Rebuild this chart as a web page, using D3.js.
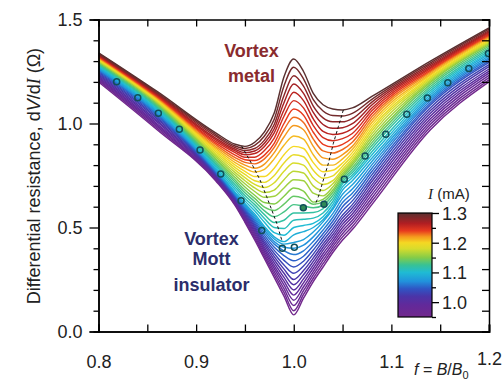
<!DOCTYPE html>
<html><head><meta charset="utf-8">
<script src="https://cdn.jsdelivr.net/npm/d3@7"></script>
<style>
body{margin:0;background:#fff}
svg{display:block}
text{font-family:"Liberation Sans",Arial,sans-serif}
</style></head>
<body><svg id="c" width="504" height="381"></svg>
<script>
// ---------- data ----------
const fGrid = [0.80,0.86,0.92,0.94,0.95,0.96,0.97,0.98,0.99,1.00,1.01,1.02,1.03,1.04,1.05,1.06,1.08,1.14,1.20];
const currents = [0.95,0.96,0.97,0.98,0.99,1.00,1.01,1.02,1.03,1.04,1.05,1.06,1.07,1.08,1.09,1.10,1.11,1.12,
                  1.13,1.14,1.15,1.16,1.17,1.18,1.19,1.20,1.21,1.22,1.23,1.24,1.25,1.26,1.27,1.28,1.29,1.30];
const resistance = [
 [1.200,.970,.725,.605,.525,.440,.350,.260,.170,.080,.160,.240,.310,.380,.440,.490,.610,.970,1.200],
 [1.206,.977,.729,.610,.531,.449,.361,.274,.188,.100,.178,.256,.326,.394,.455,.505,.626,.983,1.210],
 [1.211,.985,.733,.614,.538,.458,.372,.288,.206,.125,.196,.272,.342,.408,.470,.520,.642,.996,1.221],
 [1.217,.992,.737,.619,.544,.467,.383,.302,.224,.150,.215,.288,.358,.422,.485,.535,.658,1.010,1.231],
 [1.222,.999,.742,.624,.551,.476,.394,.316,.242,.175,.234,.304,.374,.436,.500,.550,.674,1.023,1.242],
 [1.228,1.007,.746,.628,.557,.485,.405,.330,.260,.200,.253,.320,.390,.450,.515,.565,.690,1.036,1.252],
 [1.234,1.014,.750,.633,.563,.494,.416,.345,.280,.225,.273,.337,.405,.465,.530,.580,.705,1.049,1.262],
 [1.239,1.022,.754,.637,.570,.503,.427,.360,.300,.250,.293,.354,.420,.480,.545,.595,.721,1.062,1.273],
 [1.245,1.029,.758,.642,.576,.512,.438,.375,.320,.280,.315,.372,.436,.496,.560,.610,.737,1.076,1.283],
 [1.250,1.036,.762,.647,.583,.521,.450,.390,.342,.310,.338,.392,.453,.513,.580,.628,.753,1.089,1.294],
 [1.255,1.042,.766,.651,.589,.530,.462,.405,.365,.340,.362,.412,.470,.530,.600,.646,.769,1.099,1.301],
 [1.259,1.047,.771,.656,.595,.539,.474,.420,.388,.370,.388,.433,.488,.548,.620,.665,.785,1.109,1.309],
 [1.263,1.053,.775,.661,.602,.547,.486,.432,.405,.400,.415,.455,.507,.567,.640,.685,.801,1.119,1.317],
 [1.267,1.058,.779,.665,.608,.556,.496,.445,.420,.428,.442,.478,.527,.587,.660,.705,.817,1.128,1.325],
 [1.271,1.064,.783,.670,.615,.565,.505,.455,.432,.465,.480,.500,.537,.595,.680,.725,.833,1.138,1.333],
 [1.276,1.069,.791,.682,.628,.580,.525,.475,.463,.500,.510,.520,.552,.610,.695,.740,.849,1.148,1.340],
 [1.280,1.075,.799,.694,.641,.595,.543,.500,.495,.535,.540,.545,.570,.625,.710,.752,.864,1.158,1.348],
 [1.284,1.080,.807,.705,.654,.610,.562,.524,.535,.570,.570,.572,.590,.640,.720,.764,.880,1.168,1.356],
 [1.288,1.086,.815,.717,.667,.625,.580,.552,.575,.610,.603,.595,.607,.655,.730,.776,.894,1.178,1.364],
 [1.292,1.091,.824,.728,.680,.640,.598,.582,.612,.650,.640,.612,.622,.668,.740,.788,.908,1.188,1.372],
 [1.297,1.097,.832,.740,.695,.655,.620,.613,.650,.690,.675,.622,.635,.680,.750,.800,.922,1.198,1.379],
 [1.299,1.101,.840,.752,.710,.673,.645,.650,.690,.730,.725,.665,.652,.695,.760,.810,.936,1.204,1.385],
 [1.302,1.104,.848,.764,.725,.690,.668,.680,.730,.770,.762,.700,.678,.710,.770,.820,.950,1.211,1.390],
 [1.305,1.108,.856,.776,.740,.707,.692,.715,.770,.810,.800,.738,.707,.725,.780,.832,.964,1.218,1.395],
 [1.308,1.112,.865,.788,.755,.725,.717,.750,.810,.850,.840,.775,.737,.748,.795,.845,.977,1.224,1.400],
 [1.311,1.115,.873,.800,.770,.745,.745,.785,.850,.890,.880,.812,.768,.775,.810,.860,.991,1.231,1.405],
 [1.313,1.119,.881,.812,.785,.767,.780,.830,.895,.940,.925,.850,.800,.800,.830,.875,1.005,1.237,1.411],
 [1.316,1.123,.889,.824,.800,.785,.805,.860,.935,.990,.970,.890,.835,.828,.850,.890,1.019,1.244,1.416],
 [1.319,1.126,.898,.836,.813,.806,.830,.885,.970,1.030,1.005,.925,.868,.858,.875,.910,1.033,1.251,1.421],
 [1.322,1.130,.906,.848,.826,.822,.848,.905,1.000,1.070,1.040,.958,.900,.887,.900,.930,1.047,1.257,1.426],
 [1.325,1.134,.914,.860,.838,.838,.870,.930,1.035,1.110,1.075,.990,.932,.917,.927,.952,1.061,1.264,1.431],
 [1.327,1.137,.922,.868,.850,.856,.890,.955,1.065,1.150,1.110,1.022,.962,.947,.953,.975,1.075,1.270,1.437],
 [1.330,1.141,.930,.876,.860,.868,.905,.975,1.100,1.190,1.145,1.053,.995,.977,.980,.999,1.089,1.277,1.442],
 [1.333,1.145,.939,.884,.870,.880,.920,.995,1.135,1.230,1.180,1.084,1.027,1.008,1.008,1.024,1.103,1.284,1.447],
 [1.337,1.149,.947,.892,.880,.895,.940,1.020,1.180,1.270,1.215,1.115,1.060,1.038,1.036,1.049,1.116,1.292,1.454],
 [1.340,1.154,.955,.900,.890,.910,.960,1.050,1.225,1.310,1.250,1.145,1.090,1.070,1.065,1.075,1.130,1.300,1.460]
];
const markerF = [0.8186,0.8402,0.8613,0.8828,0.904,0.9252,0.946,0.9672,0.9883,1.0006,1.0098,1.031,1.0518,1.0731,1.0943,1.1158,1.1369,1.1578,1.1793,1.1994];
const markerR = [1.201,1.124,1.049,0.972,0.873,0.757,0.629,0.485,0.400,0.405,0.595,0.612,0.732,0.844,0.948,1.044,1.123,1.196,1.265,1.337];
const markerFilled = [false,false,false,false,false,false,false,false,false,false,true,true,false,false,false,false,false,false,false,false];
const dashLeftF = [0.9467,0.9518,0.9586,0.9655,0.9723,0.9775,0.9826,0.9877];
const dashLeftR = [0.891,0.849,0.792,0.728,0.648,0.584,0.520,0.440];
const dashRightF = [1.0508,1.0457,1.0406,1.0355,1.0303,1.0252,1.0218];
const dashRightR = [1.065,0.985,0.905,0.809,0.728,0.648,0.608];
const xTicks = [0.8,0.9,1.0,1.1,1.2];
const xTickLabels = ["0.8","0.9","1.0","1.1","1.2"];
const xMinor = [0.85,0.95,1.05,1.15];
const yTicks = [0,0.5,1.0,1.5];
const yTickLabels = ["0.0","0.5","1.0","1.5"];
const yMinor = [0.1,0.2,0.3,0.4,0.6,0.7,0.8,0.9,1.1,1.2,1.3,1.4];
const cbTicks = [1.0,1.1,1.2,1.3];
const cbTickLabels = ["1.0","1.1","1.2","1.3"];
const cbMinor = [0.95,1.05,1.15,1.25];
const colorStopsI = [0.95,0.99,1.02,1.045,1.07,1.10,1.125,1.15,1.18,1.20,1.22,1.24,1.265,1.30];
const colorStopsHex = ["#72288c","#62299a","#4a35a8","#2f55c4","#2192dc","#1fbbd4","#38c294","#84cc48","#d8dc2c","#f5d823","#f59a1e","#e83a1e","#b01e22","#5a3030"];

// ---------- drawing ----------
const svg = d3.select("#c");
const x = d3.scaleLinear().domain([0.8,1.2]).range([98.5,489]);
const y = d3.scaleLinear().domain([0,1.5]).range([331.5,19.5]);
const color = d3.scaleLinear().domain(colorStopsI).range(colorStopsHex).interpolate(d3.interpolateRgb);

svg.append("defs").append("clipPath").attr("id","plotclip")
  .append("rect").attr("x",x(0.8)).attr("y",y(1.5)).attr("width",x(1.2)-x(0.8)).attr("height",y(0)-y(1.5));

const line = d3.line().x((d,i)=>x(fGrid[i])).y(d=>y(d)).curve(d3.curveMonotoneX);
const plot = svg.append("g").attr("clip-path","url(#plotclip)");
plot.selectAll("path.curve").data(resistance).join("path")
  .attr("class","curve").attr("d",line).attr("fill","none")
  .attr("stroke",(d,i)=>color(currents[i])).attr("stroke-width",1.45);

const dline = d3.line().x(d=>x(d[0])).y(d=>y(d[1]));
plot.append("path").attr("d",dline(dashLeftF.map((f,i)=>[f,dashLeftR[i]])))
  .attr("fill","none").attr("stroke","#111").attr("stroke-width",1).attr("stroke-dasharray","3,2.5");
plot.append("path").attr("d",dline(dashRightF.map((f,i)=>[f,dashRightR[i]])))
  .attr("fill","none").attr("stroke","#111").attr("stroke-width",1).attr("stroke-dasharray","3,2.5");

plot.selectAll("circle.m").data(markerF).join("circle").attr("class","m")
  .attr("cx",d=>x(d)).attr("cy",(d,i)=>y(markerR[i])).attr("r",3)
  .attr("fill",(d,i)=>markerFilled[i]?"#2f8a55":"none")
  .attr("stroke","#10505a").attr("stroke-width",1.5);

// ---------- axes ----------
function styleAxis(g){
  g.select(".domain").attr("stroke","#000").attr("stroke-width",1.5);
  g.selectAll(".tick line").attr("stroke","#000").attr("stroke-width",1.3);
  g.selectAll("text").style("font-size","18px").attr("fill","#222");
}
// left
const gl = svg.append("g").attr("transform",`translate(${x(0.8)},0)`)
  .call(d3.axisLeft(y).tickValues(yTicks).tickSize(9).tickPadding(7).tickFormat((d,i)=>yTickLabels[i]));
styleAxis(gl); gl.selectAll("text").attr("dy","0.35em");
const glm = svg.append("g").attr("transform",`translate(${x(0.8)},0)`)
  .call(d3.axisLeft(y).tickValues(yMinor).tickSize(5).tickFormat(""));
styleAxis(glm);
// bottom
const gb = svg.append("g").attr("transform",`translate(0,${y(0)})`)
  .call(d3.axisBottom(x).tickValues(xTicks).tickSize(-7).tickFormat((d,i)=>xTickLabels[i]));
styleAxis(gb);
gb.selectAll("text").attr("dy",null).attr("y",(d,i)=> i===4 ? 33 : 36.5);
const gbm = svg.append("g").attr("transform",`translate(0,${y(0)})`)
  .call(d3.axisBottom(x).tickValues(xMinor).tickSize(-7).tickFormat(""));
styleAxis(gbm);
// top
const gt = svg.append("g").attr("transform",`translate(0,${y(1.5)})`)
  .call(d3.axisTop(x).tickValues(xTicks.concat(xMinor)).tickSize(-7).tickFormat(""));
styleAxis(gt);
// right
const gr = svg.append("g").attr("transform",`translate(${x(1.2)},0)`)
  .call(d3.axisRight(y).tickValues(yTicks.concat(yMinor)).tickSize(-7).tickFormat(""));
styleAxis(gr);

// axis titles
const yt = svg.append("text").attr("transform","translate(40,176) rotate(-90)")
  .attr("text-anchor","middle").style("font-size","18px").attr("fill","#222");
yt.append("tspan").text("Differential resistance, d");
yt.append("tspan").style("font-style","italic").text("V");
yt.append("tspan").text("/d");
yt.append("tspan").style("font-style","italic").style("font-family","'Liberation Serif',serif").text("I");
yt.append("tspan").text(" (Ω)");

const xt = svg.append("text").attr("x",414).attr("y",375).style("font-size","16px").attr("fill","#222");
xt.append("tspan").style("font-style","italic").text("f");
xt.append("tspan").text(" = ");
xt.append("tspan").style("font-style","italic").text("B");
xt.append("tspan").text("/");
xt.append("tspan").style("font-style","italic").text("B");
xt.append("tspan").attr("dy",4).style("font-size","11px").text("0");

// annotations
const metal = svg.append("text").attr("text-anchor","middle").style("font-size","18px")
  .style("font-weight","bold").attr("fill","#8a2b2e");
metal.append("tspan").attr("x",251.5).attr("y",57).text("Vortex");
metal.append("tspan").attr("x",251.5).attr("y",81.5).text("metal");
const mott = svg.append("text").attr("text-anchor","middle").style("font-size","18px")
  .style("font-weight","bold").attr("fill","#2b2d6b");
mott.append("tspan").attr("x",211.5).attr("y",245).text("Vortex");
mott.append("tspan").attr("x",211.5).attr("y",265).text("Mott");
mott.append("tspan").attr("x",211.5).attr("y",291).text("insulator");

// ---------- colorbar ----------
const cb = d3.scaleLinear().domain([0.95,1.3]).range([317,213]);
const grad = svg.select("defs").append("linearGradient").attr("id","cbgrad")
  .attr("x1",0).attr("y1",1).attr("x2",0).attr("y2",0);
grad.selectAll("stop").data(colorStopsI).join("stop")
  .attr("offset",d=>(d-0.95)/0.35).attr("stop-color",(d,i)=>colorStopsHex[i]);
svg.append("rect").attr("x",398).attr("y",cb(1.3)).attr("width",34).attr("height",cb(0.95)-cb(1.3))
  .attr("fill","url(#cbgrad)").attr("stroke","#000").attr("stroke-width",1.2);
const gcb = svg.append("g").attr("transform","translate(432,0)")
  .call(d3.axisRight(cb).tickValues(cbTicks).tickSize(7).tickPadding(3).tickFormat((d,i)=>cbTickLabels[i]));
styleAxis(gcb); gcb.select(".domain").remove(); gcb.selectAll("text").attr("dy","0.35em");
const gcbm = svg.append("g").attr("transform","translate(432,0)")
  .call(d3.axisRight(cb).tickValues(cbMinor).tickSize(4).tickFormat(""));
styleAxis(gcbm); gcbm.select(".domain").remove();
const cbl = svg.append("text").attr("x",428).attr("y",199).style("font-size","15px").attr("fill","#222");
cbl.append("tspan").style("font-style","italic").style("font-family","'Liberation Serif',serif").text("I");
cbl.append("tspan").text(" (mA)");
</script>
</body></html>
